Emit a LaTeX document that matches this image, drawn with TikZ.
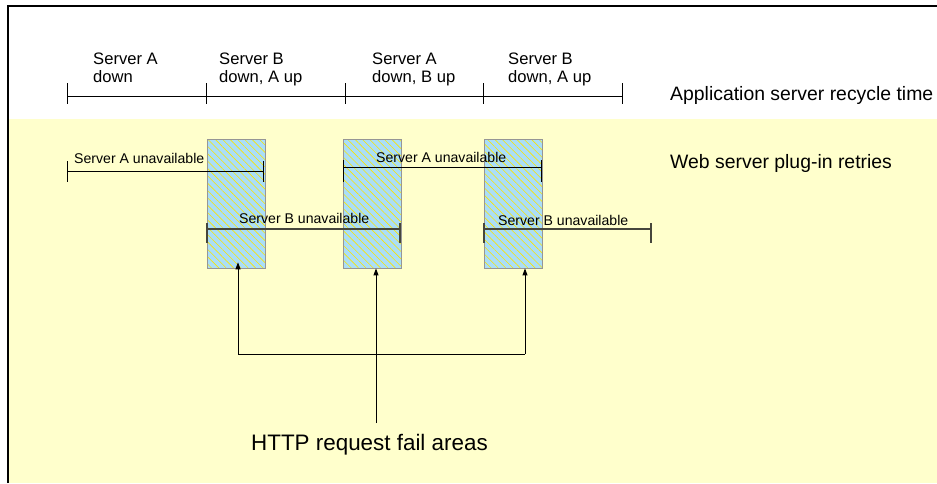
\documentclass[tikz,border=0pt]{standalone}
\usepackage{fontspec}
\setmainfont{Liberation Sans}
\usetikzlibrary{patterns.meta,arrows.meta}
\definecolor{paper}{RGB}{255,255,204}
\definecolor{failfill}{RGB}{170,222,248}
\definecolor{hatch}{RGB}{252,230,0}
\definecolor{boxedge}{RGB}{150,150,150}
\definecolor{bline}{RGB}{70,70,60}

\begin{document}
\begin{tikzpicture}[x=1pt,y=-1pt,
  phase/.style={font=\fontsize{16.6}{18}\selectfont, align=left, anchor=north west, inner sep=0pt},
  title/.style={font=\fontsize{19.4}{22}\selectfont, anchor=base west, inner sep=0pt},
  small/.style={font=\fontsize{14.1}{16}\selectfont, anchor=base west, inner sep=0pt},
  failbox/.style={minimum width=58pt, minimum height=129pt, inner sep=0pt,
    draw=boxedge, line width=0.8pt, preaction={fill=failfill},
    pattern={Lines[angle=-45,distance=5.2pt,line width=0.6pt]}, pattern color=hatch},
  span/.style={line width=0.9pt, draw=black},
  bspan/.style={line width=1.2pt, draw=bline},
  pointer/.style={line width=0.9pt, -{Triangle[length=7pt,width=5pt]}}
]
\useasboundingbox (0,0) rectangle (937,483);

% background band and frame
\fill[paper] (8,119) rectangle (937,483);
\draw[line width=2pt] (8,483) -- (8,6) -- (937,6);

% failure windows
\node[failbox] (f1) at (236,203.5) {};
\node[failbox] (f2) at (372,203.5) {};
\node[failbox] (f3) at (513,203.5) {};

% application server recycle time line
\coordinate (t0) at (67,96);
\coordinate (t1) at (206,96);
\coordinate (t2) at (345,96);
\coordinate (t3) at (483,96);
\coordinate (t4) at (622,96);
\draw[span] (t0) -- (t4);
\foreach \t in {t0,t1,t2,t3,t4} \draw[span] (\t) ++(0,-13) -- ++(0,21);

\node[phase] (p1) at (93,53) {Server A\\down};
\node[phase] (p2) at (219,53) {Server B\\down, A up};
\node[phase] (p3) at (372,53) {Server A\\down, B up};
\node[phase] (p4) at (508,53) {Server B\\down, A up};

% plug-in retry spans
\coordinate (a1s) at (67,171);  \coordinate (a1e) at (263,171);
\coordinate (a2s) at (343,167); \coordinate (a2e) at (541,167);
\coordinate (b1s) at (207,229); \coordinate (b1e) at (400,229);
\coordinate (b2s) at (484,229); \coordinate (b2e) at (651,229);

\draw[span] (a1s) -- (a1e);
\foreach \t in {a1s,a1e} \draw[span] (\t) ++(0,-10) -- ++(0,21);
\draw[span] (a2s) -- (a2e);
\foreach \t in {a2s,a2e} \draw[span] (\t) ++(0,-7) -- ++(0,22);
\draw[bspan] (b1s) -- (b1e);
\foreach \t in {b1s,b1e} \draw[bspan] (\t) ++(0,-6) -- ++(0,20);
\draw[bspan] (b2s) -- (b2e);
\foreach \t in {b2s,b2e} \draw[bspan] (\t) ++(0,-6) -- ++(0,20);

\node[small] (ua1) at (74,163) {Server A unavailable};
\node[small] (ua2) at (376,162) {Server A unavailable};
\node[small] (ub1) at (239,223) {Server B unavailable};
\node[small] (ub2) at (498,225) {Server B unavailable};

% row titles
\node[title] (rt) at (670,100) {Application server recycle time};
\node[title] (wr) at (670,168) {Web server plug-in retries};

% pointers to the failure windows
\coordinate (src) at (376,423);
\coordinate (jl) at (238,354);
\coordinate (jr) at (525,354);
\draw[line width=0.9pt] (jl) -- (jr);
\draw[pointer] (src) -- (f2.south -| src);
\draw[pointer] (jl) -- ([yshift=6pt]f1.south -| jl);
\draw[pointer] (jr) -- (f3.south -| jr);

\node[anchor=base west, inner sep=0pt, font=\fontsize{22.4}{26}\selectfont] (http) at (251,450) {HTTP request fail areas};
\end{tikzpicture}
\end{document}
